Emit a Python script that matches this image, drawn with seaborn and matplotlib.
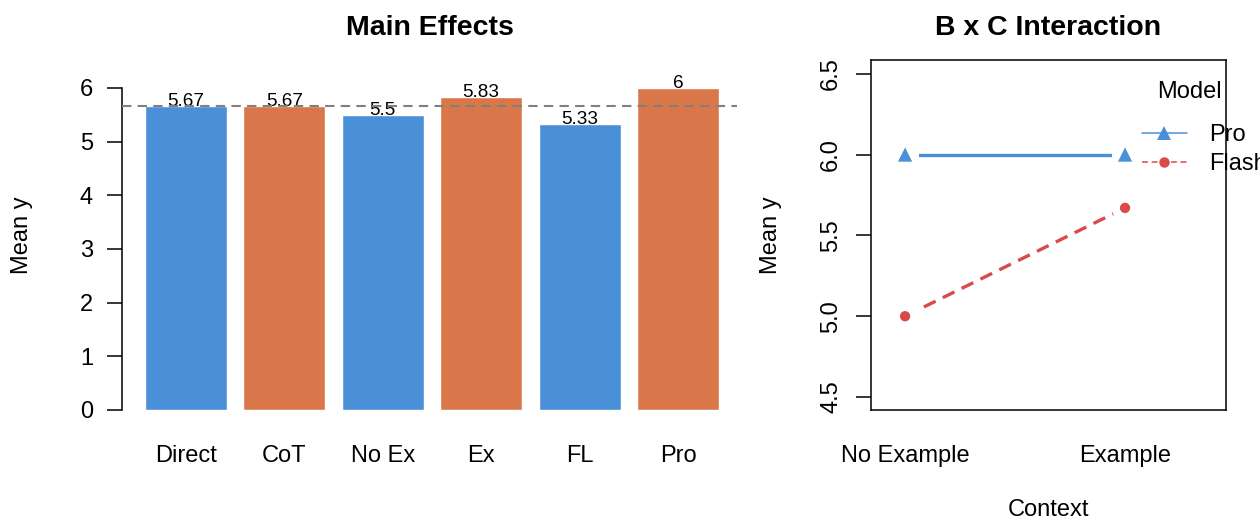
import numpy as np
import pandas as pd
import matplotlib
matplotlib.use("Agg")
import matplotlib.pyplot as plt
import seaborn as sns

# ── Data ─────────────────────────────────────────────────────────────────
effect_labels = ["Direct", "CoT", "No Ex", "Ex", "FL", "Pro"]
effect_means = [5.67, 5.67, 5.5, 5.83, 5.33, 6.0]
effect_colors = ["#4A90D9", "#D9774A", "#4A90D9", "#D9774A", "#4A90D9", "#D9774A"]
grand_mean = 5.67

context_levels = ["No Example", "Example"]
pro_means = [6.0, 6.0]
flash_means = [5.0, 5.67]
model_colors = {"Pro": "#4A90D9", "Flash": "#D94A4A"}
model_markers = {"Pro": "^", "Flash": "o"}

df_int = pd.DataFrame({
    "Context": context_levels * 2,
    "Mean": pro_means + flash_means,
    "Model": ["Pro"] * 2 + ["Flash"] * 2,
})

sns.set_style("ticks")
plt.rcParams["font.family"] = ["Liberation Sans", "DejaVu Sans"]
plt.rcParams.update({"text.color": "black", "axes.labelcolor": "black",
                     "xtick.color": "black", "ytick.color": "black",
                     "axes.edgecolor": "black"})

W, H = 1260, 520
fig = plt.figure(figsize=(W / 100, H / 100), dpi=100)
ax1 = fig.add_axes([122 / W, 110 / H, 615 / W, 350 / H])
ax2 = fig.add_axes([871 / W, 110 / H, 355 / W, 350 / H])

# ── Left: main effects ──────────────────────────────────────────────────
sns.barplot(x=effect_labels, y=effect_means, hue=effect_labels,
            palette=effect_colors, width=0.833, saturation=1,
            legend=False, ax=ax1)
for cont in ax1.containers:
    ax1.bar_label(cont, fmt="{:g}", fontsize=13.6, padding=-3.2)
ax1.axhline(grand_mean, color="#808080", linestyle=(0, (4.5, 3)),
            linewidth=1.5, zorder=3)
ax1.set_xlim(-0.65, 5.60)
ax1.set_ylim(0, 6.52)
ax1.set_yticks(range(0, 7))
for s in ["top", "right", "bottom"]:
    ax1.spines[s].set_visible(False)
ax1.spines["left"].set_bounds(0, 6)
ax1.spines["left"].set_linewidth(1.1)
ax1.tick_params(axis="y", length=10.8, width=1.1, labelsize=17, pad=10)
ax1.tick_params(axis="x", length=0, labelsize=17, pad=25)
ax1.set_ylabel("Mean y", fontsize=17)
ax1.yaxis.set_label_coords(-0.145, 0.5)
ax1.set_xlabel("")
ax1.set_title("Main Effects", fontsize=20.5, fontweight="bold", pad=18)

# ── Right: B x C interaction ─────────────────────────────────────────────
sns.lineplot(data=df_int, x="Context", y="Mean", hue="Model", style="Model",
             palette=model_colors, markers=model_markers,
             dashes={"Pro": "", "Flash": (3.9, 2.4)}, linewidth=2.4,
             markersize=9, markeredgewidth=0, sort=False, ax=ax2, zorder=2)
# white halos leave the gap around points (R type = "b")
sns.scatterplot(data=df_int, x="Context", y="Mean", color="white", s=380,
                linewidth=0, legend=False, ax=ax2, zorder=3)
sns.scatterplot(data=df_int, x="Context", y="Mean", hue="Model", style="Model",
                size="Model", sizes={"Pro": 105, "Flash": 55},
                palette=model_colors, markers=model_markers, linewidth=0,
                legend=False, ax=ax2, zorder=4)
ax2.set_xlim(-0.155, 1.459)
ax2.set_ylim(4.42, 6.585)
ax2.set_yticks([4.5, 5.0, 5.5, 6.0, 6.5])
ax2.set_yticklabels(["4.5", "5.0", "5.5", "6.0", "6.5"], rotation=90, va="center")
for s in ax2.spines.values():
    s.set_linewidth(1.1)
ax2.tick_params(axis="y", length=10.8, width=1.1, labelsize=17, pad=10)
ax2.tick_params(axis="x", length=0, labelsize=17, pad=25)
ax2.set_xlabel("Context", fontsize=17)
ax2.xaxis.set_label_coords(0.5, -0.254)
ax2.set_ylabel("Mean y", fontsize=17)
ax2.yaxis.set_label_coords(-0.251, 0.5)
ax2.set_title("B x C Interaction", fontsize=20.5, fontweight="bold", pad=18)

sns.move_legend(ax2, loc="upper left", bbox_to_anchor=(1142 / W, 1 - 124 / H),
                bbox_transform=fig.transFigure, frameon=False, title=None,
                fontsize=17, borderaxespad=0, borderpad=0, handlelength=1.9,
                handletextpad=0.95, labelspacing=0.31)
leg = ax2.get_legend()
for h in leg.legend_handles:
    h.set_linewidth(1.1)
    h.set_markersize(10 if h.get_marker() == "^" else 7.5)
    h.set_markeredgewidth(0)
fig.text(1157 / W, 1 - 98 / H, "Model", fontsize=17, ha="left", va="baseline")

plt.savefig("out.png", dpi=100)
plt.close()
